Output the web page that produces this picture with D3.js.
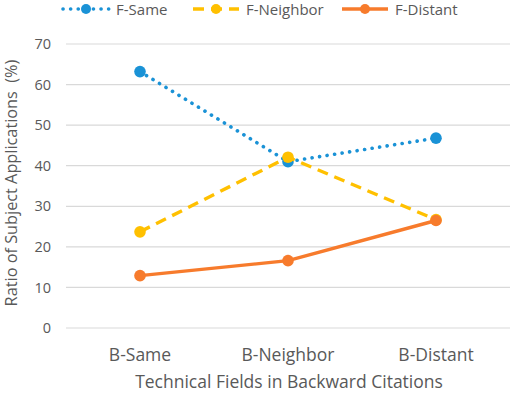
<html>
<head>
<meta charset="utf-8">
<script src="https://d3js.org/d3.v7.min.js"></script>
<style>
body{margin:0;background:#fff;}
text{font-family:"Open Sans",sans-serif;fill:#595959;}
</style>
</head>
<body>
<svg width="512" height="394"></svg>
<script>
var categories = ["B-Same","B-Neighbor","B-Distant"];
var fSame = [63.2, 41.0, 46.8];
var fNeighbor = [23.7, 42.1, 26.7];
var fDistant = [12.9, 16.6, 26.5];
var yTicks = [0,10,20,30,40,50,60,70];

var series = [
  {name:"F-Same", values:fSame, color:"#1a92d6", dash:"0.1,7.5", cap:"round", w:3.6, lx:63},
  {name:"F-Neighbor", values:fNeighbor, color:"#ffc000", dash:"11,7", cap:"butt", w:3.4, lx:193},
  {name:"F-Distant", values:fDistant, color:"#f77b2c", dash:null, cap:"butt", w:3.4, lx:342}
];

var svg = d3.select("svg");
var x = d3.scaleBand().domain(categories).range([66,510]);
var y = d3.scaleLinear().domain([0,70]).range([328,44]);

svg.append("g").selectAll("line").data(yTicks).enter().append("line")
  .attr("x1",66).attr("x2",510)
  .attr("y1",d=>y(d)).attr("y2",d=>y(d))
  .attr("stroke","#d9d9d9").attr("stroke-width",1.2);

svg.append("g").selectAll("text").data(yTicks).enter().append("text")
  .attr("x",51).attr("y",d=>y(d)).attr("dy","0.35em")
  .attr("text-anchor","end").style("font-size","14.5px").text(d=>d);

svg.append("g").selectAll("text").data(categories).enter().append("text")
  .attr("x",d=>x(d)+x.bandwidth()/2).attr("y",355).attr("dy","0.35em")
  .attr("text-anchor","middle").style("font-size","17.5px").text(d=>d);

svg.append("text").attr("x",289).attr("y",382).attr("dy","0.35em")
  .attr("text-anchor","middle").style("font-size","17.5px")
  .text("Technical Fields in Backward Citations");

svg.append("text").attr("transform","translate(11,183) rotate(-90)")
  .attr("dy","0.35em").attr("text-anchor","middle").style("font-size","16.3px")
  .attr("xml:space","preserve")
  .text("Ratio of Subject Applications  (%)");

var line = d3.line().x((d,i)=>x(categories[i])+x.bandwidth()/2).y(d=>y(d));

series.forEach(function(s){
  var g = svg.append("g");
  g.append("path").attr("d",line(s.values)).attr("fill","none")
    .attr("stroke",s.color).attr("stroke-width",s.w)
    .attr("stroke-dasharray",s.dash).attr("stroke-linecap",s.cap);
  g.selectAll("circle").data(s.values).enter().append("circle")
    .attr("cx",(d,i)=>x(categories[i])+x.bandwidth()/2).attr("cy",d=>y(d))
    .attr("r",5.8).attr("fill",s.color);

  // legend
  var lg = svg.append("g");
  lg.append("line").attr("x1",s.lx).attr("x2",s.lx+46).attr("y1",9).attr("y2",9)
    .attr("stroke",s.color).attr("stroke-width",s.w)
    .attr("stroke-dasharray",s.dash).attr("stroke-linecap",s.cap);
  lg.append("circle").attr("cx",s.lx+23).attr("cy",9).attr("r",5).attr("fill",s.color);
  lg.append("text").attr("x",s.lx+53).attr("y",10).attr("dy","0.35em")
    .style("font-size","15px").text(s.name);
});
</script>
</body>
</html>
